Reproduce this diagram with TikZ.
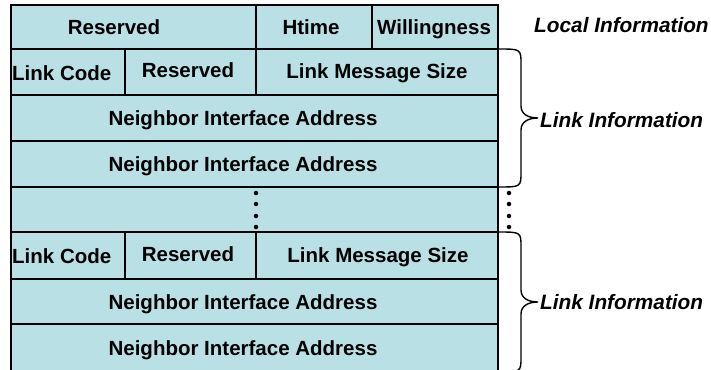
\documentclass[tikz,border=0pt]{standalone}
\usepackage{fontspec}
\setmainfont{Liberation Sans}
\definecolor{cellfill}{RGB}{185,224,228}
\begin{document}
\begin{tikzpicture}[x=1pt,y=-1pt,
  cell/.style={draw=black,line width=1.4pt,fill=cellfill},
  lbl/.style={font=\fontsize{20.5}{24}\selectfont\bfseries,inner sep=0pt,anchor=base},
  side/.style={font=\fontsize{20.8}{24}\selectfont\bfseries\itshape,inner sep=0pt,anchor=base west},
  brace/.style={draw=black,line width=1.4pt},
  dotc/.style={circle,fill=black,inner sep=0pt,minimum size=4.5pt}]
\useasboundingbox (0,0) rectangle (711,369);
\clip (0,0) rectangle (711,369);
% cells
\path[cell] (11,5) rectangle (256,49);
\path[cell] (256,5) rectangle (372,49);
\path[cell] (372,5) rectangle (498,49);
\path[cell] (11,49) rectangle (125,95);
\path[cell] (125,49) rectangle (256,95);
\path[cell] (256,49) rectangle (498,95);
\path[cell] (11,95) rectangle (498,141);
\path[cell] (11,141) rectangle (498,187);
\path[cell] (11,187) rectangle (498,232);
\path[cell] (11,232) rectangle (125,279);
\path[cell] (125,232) rectangle (256,279);
\path[cell] (256,232) rectangle (498,279);
\path[cell] (11,279) rectangle (498,324);
\path[cell] (11,324) rectangle (498,385);
% texts
\node[lbl] (res1) at (114,35) {Reserved};
\node[lbl] (htime) at (311,35) {Htime};
\node[lbl] (will) at (434,35) {Willingness};
\node[lbl,anchor=base west] (lc1) at (12,80) {Link Code};
\node[lbl] (res2) at (188,77) {Reserved};
\node[lbl] (lms1) at (377,78) {Link Message Size};
\node[lbl] (nia1) at (243,125) {Neighbor Interface Address};
\node[lbl] (nia2) at (243,171) {Neighbor Interface Address};
\node[lbl,anchor=base west] (lc2) at (12,263) {Link Code};
\node[lbl] (res3) at (188,261) {Reserved};
\node[lbl] (lms2) at (378,262) {Link Message Size};
\node[lbl] (nia3) at (243,309) {Neighbor Interface Address};
\node[lbl] (nia4) at (243,355) {Neighbor Interface Address};
% dots
\foreach \y [count=\i] in {193,204,216,227} {
  \node[dotc] (din\i) at (256,\y) {};
  \node[dotc] (dout\i) at (509,\y) {};
}
% side labels
\node[side] (local) at (534,33) {Local Information};
\node[side] (link1) at (540,127) {Link Information};
\node[side] (link2) at (540,309) {Link Information};
% braces
\coordinate (b1t) at (498,49);
\coordinate (b1m) at (538,118);
\coordinate (b1b) at (498,187);
\coordinate (b2t) at (498,232);
\coordinate (b2m) at (538,302);
\coordinate (b2b) at (498,372);
\draw[brace] (b1t) .. controls (521,49) .. (521,64) -- (521,106)
  .. controls (521,114) and (528,118) .. (b1m)
  .. controls (528,118) and (521,122) .. (521,130) -- (521,172)
  .. controls (521,187) .. (b1b);
\draw[brace] (b2t) .. controls (521,232) .. (521,247) -- (521,290)
  .. controls (521,298) and (528,302) .. (b2m)
  .. controls (528,302) and (521,306) .. (521,314) -- (521,357)
  .. controls (521,372) .. (b2b);
\end{tikzpicture}
\end{document}
